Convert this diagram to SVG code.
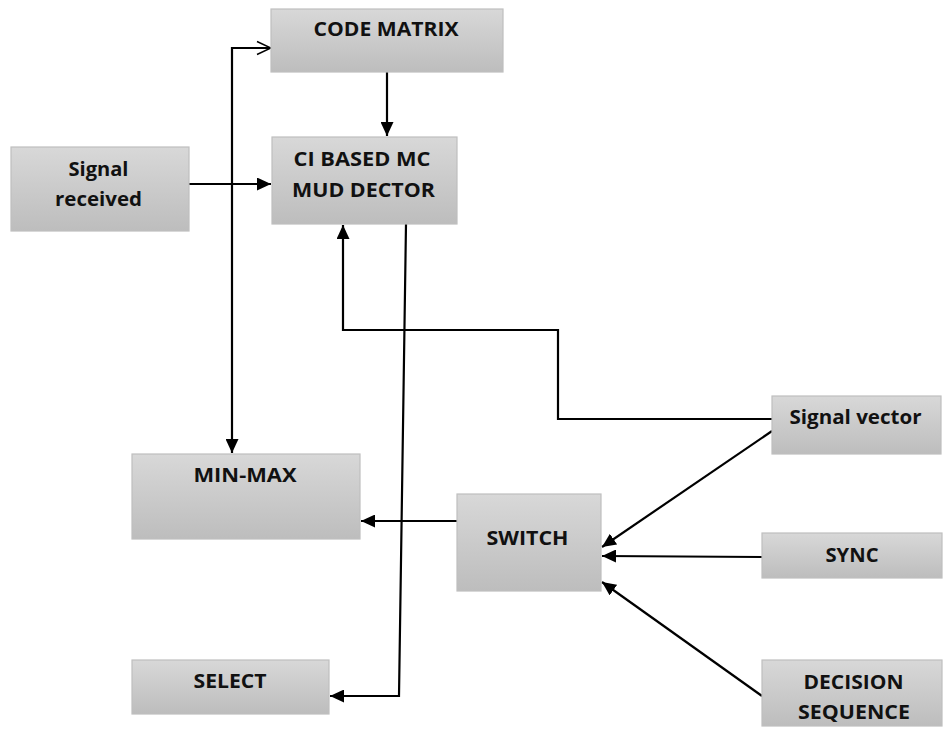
<svg xmlns="http://www.w3.org/2000/svg" width="944" height="729" viewBox="0 0 944 729">
<defs>
<linearGradient id="g" x1="0" y1="0" x2="0" y2="1">
<stop offset="0" stop-color="#d8d8d8"/>
<stop offset="1" stop-color="#bdbdbd"/>
</linearGradient>
<marker id="fa" markerUnits="userSpaceOnUse" markerWidth="15" markerHeight="13" refX="14" refY="6.5" orient="auto">
<path d="M0,0 L14,6.5 L0,13 z" fill="#000"/>
</marker>
<marker id="oa" markerUnits="userSpaceOnUse" markerWidth="16" markerHeight="16" refX="15" refY="8" orient="auto-start-reverse">
<path d="M1,1.5 L15,8 L1,14.5" fill="none" stroke="#000" stroke-width="1.5"/>
</marker>
<style>
.box{fill:url(#g);stroke:#bfbfbf;stroke-width:1.2}
.t{font-family:"Open Sans","Liberation Sans",sans-serif;font-weight:bold;font-size:19px;fill:#111;text-anchor:middle}
.c{fill:none;stroke:#000;stroke-width:2.2}
</style>
</defs>
<g id="connectors">
<path class="c" d="M387,72 V136" marker-end="url(#fa)"/>
<path class="c" d="M189,184 H271" marker-end="url(#fa)"/>
<path class="c" d="M271,48 H232 V453" marker-start="url(#oa)" marker-end="url(#fa)"/>
<path class="c" d="M772,419 H558 V330 H343 V225" marker-end="url(#fa)"/>
<path class="c" d="M406,224 L399,696 H330" marker-end="url(#fa)"/>
<path class="c" d="M457,521 H361" marker-end="url(#fa)"/>
<path class="c" d="M772,431 L602,547" marker-end="url(#fa)"/>
<path class="c" d="M762,557 L602,556" marker-end="url(#fa)"/>
<path class="c" d="M762,696 L602,582" marker-end="url(#fa)"/>
</g>
<g id="code-matrix">
<rect class="box" x="271" y="9" width="232" height="63"/>
<text class="t" x="386" y="36" textLength="145" lengthAdjust="spacingAndGlyphs">CODE MATRIX</text>
</g>
<g id="ci-based">
<rect class="box" x="272" y="137" width="185" height="87"/>
<text class="t" x="362" y="165.5" textLength="137" lengthAdjust="spacingAndGlyphs">CI BASED MC</text>
<text class="t" x="363.5" y="196.5" textLength="143" lengthAdjust="spacingAndGlyphs">MUD DECTOR</text>
</g>
<g id="signal-received">
<rect class="box" x="11" y="147" width="178" height="84"/>
<text class="t" x="98.5" y="175.5" textLength="60" lengthAdjust="spacingAndGlyphs">Signal</text>
<text class="t" x="98.5" y="206" textLength="87" lengthAdjust="spacingAndGlyphs">received</text>
</g>
<g id="min-max">
<rect class="box" x="132" y="454" width="228" height="85"/>
<text class="t" x="245" y="482" textLength="103" lengthAdjust="spacingAndGlyphs">MIN-MAX</text>
</g>
<g id="switch">
<rect class="box" x="457" y="494" width="144" height="97"/>
<text class="t" x="527.5" y="545" textLength="82" lengthAdjust="spacingAndGlyphs">SWITCH</text>
</g>
<g id="signal-vector">
<rect class="box" x="772" y="396" width="169" height="58"/>
<text class="t" x="855.5" y="423.5" textLength="132" lengthAdjust="spacingAndGlyphs">Signal vector</text>
</g>
<g id="sync">
<rect class="box" x="762" y="533" width="180" height="45"/>
<text class="t" x="852" y="561.5" textLength="53" lengthAdjust="spacingAndGlyphs">SYNC</text>
</g>
<g id="select">
<rect class="box" x="132" y="660" width="197" height="54"/>
<text class="t" x="230" y="688" textLength="73" lengthAdjust="spacingAndGlyphs">SELECT</text>
</g>
<g id="decision-sequence">
<rect class="box" x="762" y="660" width="180" height="66"/>
<text class="t" x="853.5" y="689" textLength="100" lengthAdjust="spacingAndGlyphs">DECISION</text>
<text class="t" x="854" y="719" textLength="112" lengthAdjust="spacingAndGlyphs">SEQUENCE</text>
</g>
</svg>
